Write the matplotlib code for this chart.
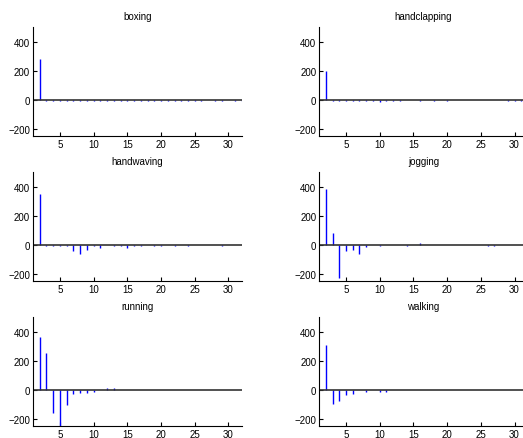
import numpy as np
import matplotlib
matplotlib.use("Agg")
import matplotlib.pyplot as plt

plt.rcParams['font.family'] = ['Liberation Sans', 'DejaVu Sans']

lags = np.arange(2, 33)
titles = ["boxing", "handclapping", "handwaving", "jogging", "running", "walking"]

boxing = [280, -8, -8, -8, -8, -8, -8, -8, -8, -8, -8, -8, -8, -8, -8, -8,
          -8, -8, -8, -8, -8, -8, -8, -8, -8, 0, -8, -8, 0, -8, -8]
handclapping = [200, -8, -8, -8, -12, -8, -8, -12, -14, -12, -12, -8, 0, 0, -8, 0,
                -8, 0, -8, 0, 0, 0, 0, 0, 0, 0, 0, -8, -8, -8, 0]
handwaving = [350, -8, -8, -8, -8, -46, -62, -39, -10, -20, 0, -8, -8, -20, -8, -8,
              0, -8, -8, 0, -8, 0, -8, 0, 0, 0, 0, -8, 0, 0, 0]
jogging = [386, 78, -230, -46, -37, -62, -15, 0, -12, 0, 0, 0, -10, 0, 10, 0,
           0, 0, 0, 0, 0, 0, 0, 0, -10, -10, 0, 0, 0, 0, 0]
running = [366, 250, -163, -265, -108, -28, -23, -23, -14, 0, 9, 9, 0, 0, 0, 0,
           0, 0, 0, 0, 0, 0, 0, 0, 0, 0, 0, 0, 0, 0, 0]
walking = [306, -101, -76, -39, -32, 0, -13, 0, -13, -13, 0, 0, 0, 0, 0, 0,
           0, 0, 0, 0, 0, 0, 0, 0, 0, 0, 0, 0, 0, 0, 0]
series = [boxing, handclapping, handwaving, jogging, running, walking]

fig = plt.figure(figsize=(5.23, 4.39), dpi=100)
lefts = [0.063, 0.61]
bottoms = [0.688, 0.3576, 0.0273]

for i, (title, vals) in enumerate(zip(titles, series)):
    ax = fig.add_axes([lefts[i % 2], bottoms[i // 2], 0.3996, 0.248])
    ax.vlines(lags, 0, vals, color='#0000ff', linewidth=1)
    ax.axhline(0, color='#333333', linewidth=1.2)
    ax.set_xlim(1, 32)
    ax.set_ylim(-250, 500)
    ax.set_xticks([5, 10, 15, 20, 25, 30])
    ax.set_yticks([-200, 0, 200, 400])
    ax.spines['top'].set_visible(False)
    ax.spines['right'].set_visible(False)
    ax.tick_params(direction='in', length=3, labelsize=7, pad=2)
    ax.set_title(title, fontsize=7, pad=6)

fig.savefig("out.png", dpi=100)
